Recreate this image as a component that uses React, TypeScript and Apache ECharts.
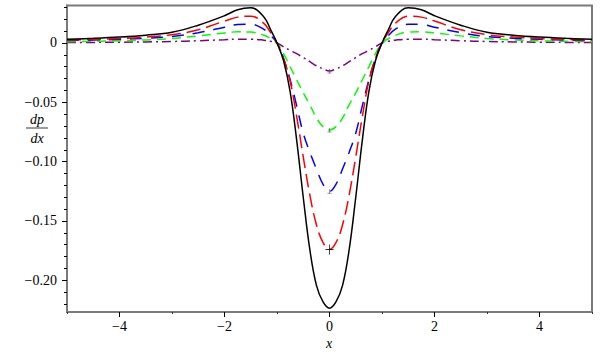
import React, { useEffect, useRef } from "react";
import * as echarts from "echarts";

const xs = [-5, -4.5, -4, -3.5, -3, -2.5, -2, -1.75, -1.5, -1.25, -1.125, -1, -0.875, -0.75, -0.625, -0.5, -0.375, -0.25, -0.125, 0,
  0.125, 0.25, 0.375, 0.5, 0.625, 0.75, 0.875, 1, 1.125, 1.25, 1.5, 1.75, 2, 2.5, 3, 3.5, 4, 4.5, 5];

const blackVals = [0.0031, 0.0039, 0.005, 0.0066, 0.009, 0.015, 0.023, 0.028, 0.0296, 0.022, 0.0115, 0, -0.015, -0.041, -0.082, -0.13, -0.174, -0.204, -0.218, -0.2235,
  -0.218, -0.204, -0.174, -0.13, -0.082, -0.041, -0.015, 0, 0.0115, 0.022, 0.0296, 0.028, 0.023, 0.015, 0.009, 0.0066, 0.005, 0.0039, 0.0031];

const redVals = [0.0025, 0.003, 0.0037, 0.005, 0.007, 0.0112, 0.0185, 0.0218, 0.0226, 0.0165, 0.009, 0, -0.013, -0.032, -0.062, -0.096, -0.128, -0.153, -0.168, -0.174,
  -0.168, -0.153, -0.128, -0.096, -0.062, -0.032, -0.013, 0, 0.009, 0.0165, 0.0226, 0.0218, 0.0185, 0.0112, 0.007, 0.005, 0.0037, 0.003, 0.0025];

const blueVals = [0.002, 0.0025, 0.0031, 0.004, 0.0055, 0.0087, 0.0133, 0.0156, 0.0158, 0.0115, 0.0065, 0, -0.013, -0.031, -0.053, -0.076, -0.092, -0.106, -0.119, -0.125,
  -0.119, -0.106, -0.092, -0.076, -0.053, -0.031, -0.013, 0, 0.0065, 0.0115, 0.0158, 0.0156, 0.0133, 0.0087, 0.0055, 0.004, 0.0031, 0.0025, 0.002];

const greenVals = [0.0011, 0.0014, 0.0019, 0.0026, 0.0038, 0.006, 0.0085, 0.0094, 0.0092, 0.0065, 0.0038, 0, -0.009, -0.02, -0.031, -0.042, -0.052, -0.063, -0.0705, -0.0733,
  -0.0705, -0.063, -0.052, -0.042, -0.031, -0.02, -0.009, 0, 0.0038, 0.0065, 0.0092, 0.0094, 0.0085, 0.006, 0.0038, 0.0026, 0.0019, 0.0014, 0.0011];

const purpleVals = [0.0004, 0.0005, 0.0007, 0.0009, 0.0013, 0.0019, 0.0028, 0.0032, 0.0032, 0.0024, 0.0015, 0, -0.0032, -0.0062, -0.009, -0.0123, -0.0157, -0.0192, -0.0218, -0.0236,
  -0.0218, -0.0192, -0.0157, -0.0123, -0.009, -0.0062, -0.0032, 0, 0.0015, 0.0024, 0.0032, 0.0032, 0.0028, 0.0019, 0.0013, 0.0009, 0.0007, 0.0005, 0.0004];

const xMajor = [-4, -2, 0, 2, 4];
const xMinor = [-5, -3, -1, 1, 3, 5];
const yMajor = [0, -0.05, -0.1, -0.15, -0.2];
const yMinor = [0.03, 0.02, 0.01, -0.01, -0.02, -0.03, -0.04, -0.06, -0.07, -0.08, -0.09, -0.11, -0.12, -0.13, -0.14, -0.16, -0.17, -0.18, -0.19, -0.21, -0.22];

const markerPoints = [[0, -0.174]];
const smallMarkerPoints = [[0, -0.125], [0, -0.0733], [0, -0.0236]];

const AXIS_GRAY = "#7a7a7a";
const FONT = "Liberation Serif";

const pairs = (vals: number[]) => xs.map((x, i) => [x, vals[i]]);

export default function App() {
  const ref = useRef<HTMLDivElement>(null);
  useEffect(() => {
    if (!ref.current) return;
    const chart = echarts.init(ref.current, null, { renderer: "svg" });
    const fmtY = (v: number) => (Math.abs(v) < 1e-9 ? "0" : "\u2212" + Math.abs(v).toFixed(2));
    const fmtX = (v: number) => (v < 0 ? "\u2212" + Math.abs(v) : String(v));
    const yMin = -0.2267;
    const yMax = 0.0316;
    const lineSeries = (name: string, vals: number[], color: string, type: any, width = 1.5) => ({
      name,
      type: "line",
      data: pairs(vals),
      smooth: 0.4,
      showSymbol: false,
      symbol: "none",
      lineStyle: { color, width, type },
      z: 3,
    });
    chart.setOption({
      animation: false,
      backgroundColor: "#ffffff",
      grid: {
        left: 67,
        right: 8,
        top: 5.5,
        bottom: 41,
        show: true,
        borderColor: AXIS_GRAY,
        borderWidth: 2,
        backgroundColor: "transparent",
      },
      xAxis: [
        {
          type: "value",
          min: -5,
          max: 5,
          position: "bottom",
          axisLine: { show: true, onZero: false, lineStyle: { color: AXIS_GRAY, width: 2 } },
          axisTick: { show: true, customValues: xMajor, length: 5, lineStyle: { color: "#000", width: 1 } },
          axisLabel: { customValues: xMajor, formatter: fmtX, color: "#000", fontFamily: FONT, fontSize: 14, margin: 7 },
          splitLine: { show: false },
        },
        {
          type: "value",
          min: -5,
          max: 5,
          position: "bottom",
          axisLine: { show: false, onZero: false },
          axisTick: { show: true, customValues: xMinor, length: 2, lineStyle: { color: "#333", width: 1 } },
          axisLabel: { show: false },
          splitLine: { show: false },
        },
      ],
      yAxis: [
        {
          type: "value",
          min: yMin,
          max: yMax,
          position: "left",
          axisLine: { show: true, onZero: false, lineStyle: { color: AXIS_GRAY, width: 2 } },
          axisTick: { show: true, customValues: yMajor, length: 5, lineStyle: { color: "#000", width: 1 } },
          axisLabel: { customValues: yMajor, formatter: fmtY, color: "#000", fontFamily: FONT, fontSize: 14, margin: 10 },
          splitLine: { show: false },
        },
        {
          type: "value",
          min: yMin,
          max: yMax,
          position: "left",
          axisLine: { show: false, onZero: false },
          axisTick: { show: true, customValues: yMinor, length: 3, lineStyle: { color: "#000", width: 1 } },
          axisLabel: { show: false },
          splitLine: { show: false },
        },
      ],
      series: [
        lineSeries("purple", purpleVals, "#800080", [9, 4, 2, 4]),
        lineSeries("green", greenVals, "#00ff00", [9, 6]),
        lineSeries("blue", blueVals, "#0000ff", [12, 9]),
        lineSeries("red", redVals, "#ff0000", [14, 6]),
        lineSeries("black", blackVals, "#000000", "solid"),
        {
          name: "marker",
          type: "scatter",
          data: markerPoints,
          symbol: "path://M4,0L4,10M0,5L8,5",
          symbolSize: [8, 10],
          itemStyle: { color: "none", borderColor: "#000", borderWidth: 1 },
          z: 5,
        },
        {
          name: "smallMarker",
          type: "scatter",
          data: smallMarkerPoints,
          symbol: "path://M2,0L2,4M0,4L4,4",
          symbolSize: [4, 4],
          itemStyle: { color: "none", borderColor: "#555", borderWidth: 0.8 },
          z: 5,
        },
      ],
      graphic: [
        {
          type: "text",
          x: 37,
          y: 119,
          style: { text: "dp", font: `italic 14px ${FONT}`, fill: "#000", align: "center", verticalAlign: "middle" },
        },
        {
          type: "line",
          shape: { x1: 26, y1: 128, x2: 48, y2: 128 },
          style: { stroke: AXIS_GRAY, lineWidth: 1.5 },
        },
        {
          type: "text",
          x: 37,
          y: 138,
          style: { text: "dx", font: `italic 14px ${FONT}`, fill: "#000", align: "center", verticalAlign: "middle" },
        },
        {
          type: "text",
          x: 329,
          y: 343,
          style: { text: "x", font: `italic 14px ${FONT}`, fill: "#000", align: "center", verticalAlign: "middle" },
        },
      ],
    });
    return () => chart.dispose();
  }, []);
  return <div ref={ref} style={{ width: 600, height: 353, position: "absolute", left: 0, top: 0 }} />;
}
